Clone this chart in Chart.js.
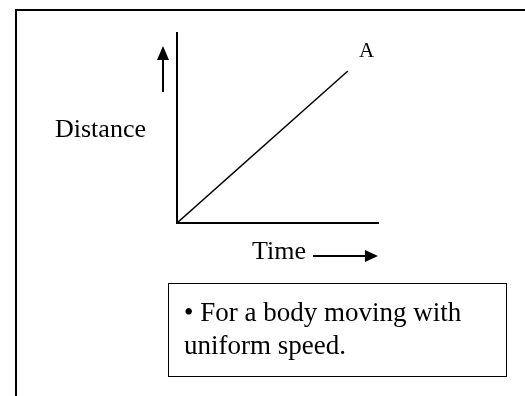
<!DOCTYPE html>
<html>
<head>
<meta charset="utf-8">
<script src="https://cdn.jsdelivr.net/npm/chart.js@4.4.1/dist/chart.umd.min.js"></script>
<style>
  html, body { margin: 0; padding: 0; background: #fff; overflow: hidden; }
  body { width: 525px; height: 396px; position: relative; font-family: "Liberation Serif", serif; color: #000; }
  #frame { position: absolute; left: 15px; top: 9px; width: 600px; height: 500px; border: 2px solid #000; }
  #chart { position: absolute; left: 0; top: 0; }
  .lbl { position: absolute; white-space: nowrap; font-size: 26px; line-height: 30px; }
  #lblA { position: absolute; left: 359px; top: 40px; font-size: 21px; line-height: 21px; }
  #note { position: absolute; left: 168px; top: 283px; width: 322px; height: 80px; border: 1px solid #000;
          padding: 12px 0 0 15px; font-size: 27px; line-height: 33px; box-sizing: content-box; }
</style>
</head>
<body>
<div id="frame"></div>
<canvas id="chart" width="525" height="396"></canvas>
<div class="lbl" style="left:55px; top:114px;">Distance</div>
<div class="lbl" style="left:252px; top:236px;">Time</div>
<div id="lblA">A</div>
<div id="note">• For a body moving with<br>uniform speed.</div>
<script>
// data garis lurus: jarak naik sebanding dengan waktu
const timeValues = [0, 8.5];
const distanceValues = [0, 8];

const points = timeValues.map((t, i) => ({ x: t, y: distanceValues[i] }));

// panah di samping sumbu
const arrowPlugin = {
    id: 'arrows',
    afterDraw(chart) {
        const { ctx, chartArea } = chart;
        ctx.save();
        ctx.strokeStyle = '#000';
        ctx.fillStyle = '#000';
        ctx.lineWidth = 2;

        // panah ke atas (Distance)
        const ax = chartArea.left - 14;
        ctx.beginPath();
        ctx.moveTo(ax, chartArea.top + 59);
        ctx.lineTo(ax, chartArea.top + 24);
        ctx.stroke();
        ctx.beginPath();
        ctx.moveTo(ax, chartArea.top + 13);
        ctx.lineTo(ax - 6, chartArea.top + 27);
        ctx.lineTo(ax + 6, chartArea.top + 27);
        ctx.closePath();
        ctx.fill();

        // panah ke kanan (Time)
        const ay = chartArea.bottom + 33;
        ctx.beginPath();
        ctx.moveTo(chartArea.left + 136, ay);
        ctx.lineTo(chartArea.right - 10, ay);
        ctx.stroke();
        ctx.beginPath();
        ctx.moveTo(chartArea.right, ay);
        ctx.lineTo(chartArea.right - 13, ay - 6);
        ctx.lineTo(chartArea.right - 13, ay + 6);
        ctx.closePath();
        ctx.fill();
        ctx.restore();
    }
};

const ctx = document.getElementById('chart').getContext('2d');
const chart = new Chart(ctx, {
    type: 'line',
    data: {
        datasets: [{
            data: points,
            borderColor: '#000',
            borderWidth: 1.5,
            pointRadius: 0,
            fill: false,
            tension: 0
        }]
    },
    options: {
        responsive: false,
        animation: false,
        devicePixelRatio: 1,
        layout: {
            autoPadding: false,
            padding: { left: 177, top: 33, right: 147, bottom: 173 }
        },
        plugins: {
            legend: { display: false },
            tooltip: { enabled: false }
        },
        scales: {
            x: {
                type: 'linear',
                min: 0,
                max: 10,
                grid: { display: false, drawTicks: false, tickLength: 0 },
                ticks: { display: false },
                border: { display: true, color: '#000', width: 2 }
            },
            y: {
                min: 0,
                max: 10,
                grid: { display: false, drawTicks: false, tickLength: 0 },
                ticks: { display: false },
                border: { display: true, color: '#000', width: 2 }
            }
        }
    },
    plugins: [arrowPlugin]
});
</script>
</body>
</html>
